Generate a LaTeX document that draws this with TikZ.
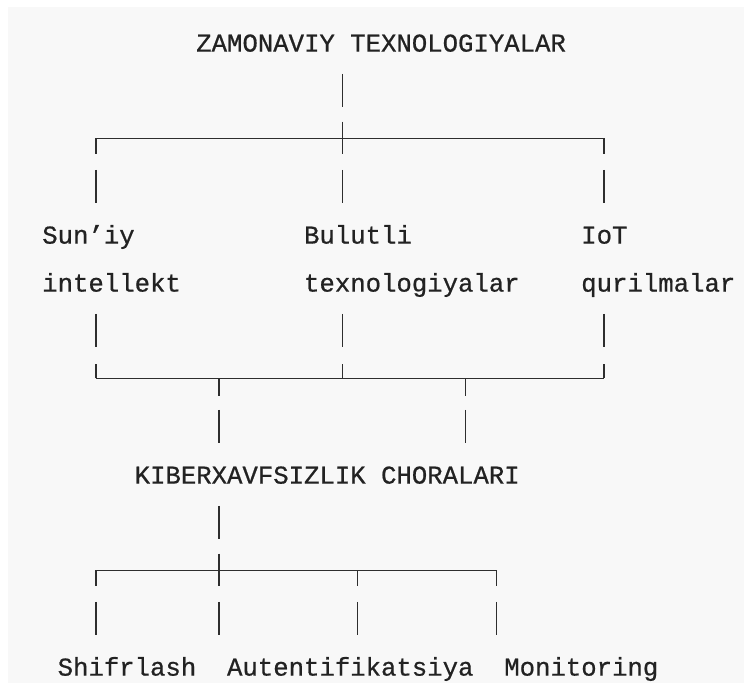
\documentclass[tikz,border=0pt]{standalone}
\usepackage{fontspec}
\usepackage{xcolor}
\usepackage{tikz}

\newfontfamily\codefont[FakeBold=0.7]{Liberation Mono}
\definecolor{codebg}{HTML}{F8F8F8}
\definecolor{codeink}{HTML}{222222}
\definecolor{boxline}{HTML}{2E2E2E}

\tikzset{
  label text/.style={anchor=base west, inner sep=0pt, text=codeink,
    font=\codefont\fontsize{19.25pt}{20pt}\selectfont},
  tree line/.style={draw=boxline, line width=1.1pt},
}

\begin{document}
\begin{tikzpicture}[x=11.55pt, y=-36pt]
        % One unit = one character column across, one text row down
        \useasboundingbox (-2.727,-0.885) rectangle (45.584,13.552);
        \fill[white] (-2.727,-0.885) rectangle (45.584,13.552);
        \fill[codebg] (-2.208,-0.740) rectangle (45.584,13.344);

        % Texts of the tree
        \node[label text] (title) at (10,0.19) {ZAMONAVIY TEXNOLOGIYALAR};
        \node[label text] (ai1) at (0,4.19) {Sun’iy};
        \node[label text] (ai2) at (0,5.19) {intellekt};
        \node[label text] (cloud1) at (17,4.19) {Bulutli};
        \node[label text] (cloud2) at (17,5.19) {texnologiyalar};
        \node[label text] (iot1) at (35,4.19) {IoT};
        \node[label text] (iot2) at (35,5.19) {qurilmalar};
        \node[label text] (cyber) at (6,9.19) {KIBERXAVFSIZLIK CHORALARI};
        \node[label text] (enc) at (1,13.19) {Shifrlash};
        \node[label text] (auth) at (12,13.19) {Autentifikatsiya};
        \node[label text] (mon) at (30,13.19) {Monitoring};

        % Single bars between the rows
        \foreach \c/\r in {19/1, 3/3, 19/3, 36/3, 3/6, 19/6, 36/6, 11/8, 27/8, 11/10, 3/12, 11/12, 20/12, 29/12}
          \draw[tree line] (\c+0.5,\r-0.345) -- (\c+0.5,\r+0.345);

        % Upper fork
        \coordinate (upL) at (3.5,2);
        \coordinate (upM) at (19.5,2);
        \coordinate (upR) at (36.5,2);
        \draw[tree line] (upL) -- (upR);
        \draw[tree line] (upL) -- ++(0,0.33);
        \draw[tree line] (upR) -- ++(0,0.33);
        \draw[tree line] (upM) ++(0,-0.35) -- ++(0,0.68);

        % Lower joining line
        \coordinate (loL) at (3.5,7);
        \coordinate (loA) at (11.5,7);
        \coordinate (loM) at (19.5,7);
        \coordinate (loB) at (27.5,7);
        \coordinate (loR) at (36.5,7);
        \draw[tree line] (loL) -- (loR);
        \draw[tree line] (loL) -- ++(0,-0.31);
        \draw[tree line] (loR) -- ++(0,-0.31);
        \draw[tree line] (loM) -- ++(0,-0.31);
        \draw[tree line] (loA) -- ++(0,0.37);
        \draw[tree line] (loB) -- ++(0,0.37);

        % Fork of the measures
        \coordinate (msL) at (3.5,11);
        \coordinate (msA) at (11.5,11);
        \coordinate (msB) at (20.5,11);
        \coordinate (msR) at (29.5,11);
        \draw[tree line] (msL) -- (msR);
        \draw[tree line] (msL) -- ++(0,0.33);
        \draw[tree line] (msB) -- ++(0,0.33);
        \draw[tree line] (msR) -- ++(0,0.33);
        \draw[tree line] (msA) ++(0,-0.35) -- ++(0,0.68);

\end{tikzpicture}
\end{document}
